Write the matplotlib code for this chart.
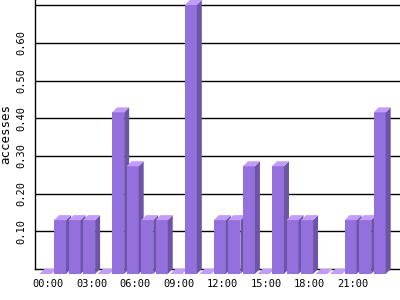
import matplotlib
matplotlib.use("Agg")
import matplotlib.pyplot as plt
from matplotlib.patches import Polygon

hours = list(range(24))
accesses = [0, 0.143, 0.143, 0.143, 0, 0.429, 0.286, 0.143, 0.143, 0, 0.714, 0,
            0.143, 0.143, 0.286, 0, 0.286, 0.143, 0.143, 0, 0, 0.143, 0.143, 0.429]
tick_hours = [0, 3, 6, 9, 12, 15, 18, 21]
tick_labels = ["00:00", "03:00", "06:00", "09:00", "12:00", "15:00", "18:00", "21:00"]
grid_values = [0.1, 0.2, 0.3, 0.4, 0.5, 0.6, 0.7]
y_ticks = [0.1, 0.2, 0.3, 0.4, 0.5, 0.6]

plt.rcParams["font.family"] = "DejaVu Sans Mono"

fig = plt.figure(figsize=(4, 3), dpi=100)
ax = fig.add_axes([35 / 400, 31 / 300, 365 / 400, 269 / 300])

px_per_hour = 14.53
px_per_unit = 376.8
x_min = -13 / px_per_hour
ax.set_xlim(x_min, x_min + 365 / px_per_hour)
ax.set_ylim(0, 269 / px_per_unit)

# 3d bar geometry (pixels -> data units)
w = 12 / px_per_hour
dx = 5 / px_per_hour
dy = 5 / px_per_unit

front_c = "#9370db"
side_c = "#6c55a6"
top_c = "#c29cfa"

for y in grid_values:
    ax.axhline(y, color="black", lw=1, zorder=1)

for h, v in zip(hours, accesses):
    x0 = h - (w + dx) / 2
    front = [(x0, -dy), (x0 + w, -dy), (x0 + w, v - dy), (x0, v - dy)]
    top = [(x0, v - dy), (x0 + w, v - dy), (x0 + w + dx, v), (x0 + dx, v)]
    side = [(x0 + w, -dy), (x0 + w + dx, 0), (x0 + w + dx, v), (x0 + w, v - dy)]
    if v > 0:
        ax.add_patch(Polygon(front, closed=True, color=front_c, lw=0, zorder=3, clip_on=False))
        ax.add_patch(Polygon(side, closed=True, color=side_c, lw=0, zorder=3, clip_on=False))
    ax.add_patch(Polygon(top, closed=True, color=top_c, lw=0, zorder=3, clip_on=False))

ax.spines["top"].set_visible(False)
ax.spines["right"].set_visible(False)
ax.spines["left"].set_linewidth(1)
ax.spines["bottom"].set_linewidth(1)
ax.spines["left"].set_zorder(4)
ax.spines["bottom"].set_zorder(2)

ax.set_xticks(tick_hours)
ax.set_xticklabels(tick_labels, fontsize=7.5)
ax.set_yticks(y_ticks)
ax.set_yticklabels([f"{t:.2f}" for t in y_ticks], fontsize=7.5, rotation=90, va="center")
ax.tick_params(axis="both", length=0)
ax.tick_params(axis="x", pad=7)
ax.tick_params(axis="y", pad=6)
ax.set_ylabel("accesses", fontsize=9)
ax.yaxis.set_label_coords(-0.062, 0.5)

fig.savefig("out.png", dpi=100)
